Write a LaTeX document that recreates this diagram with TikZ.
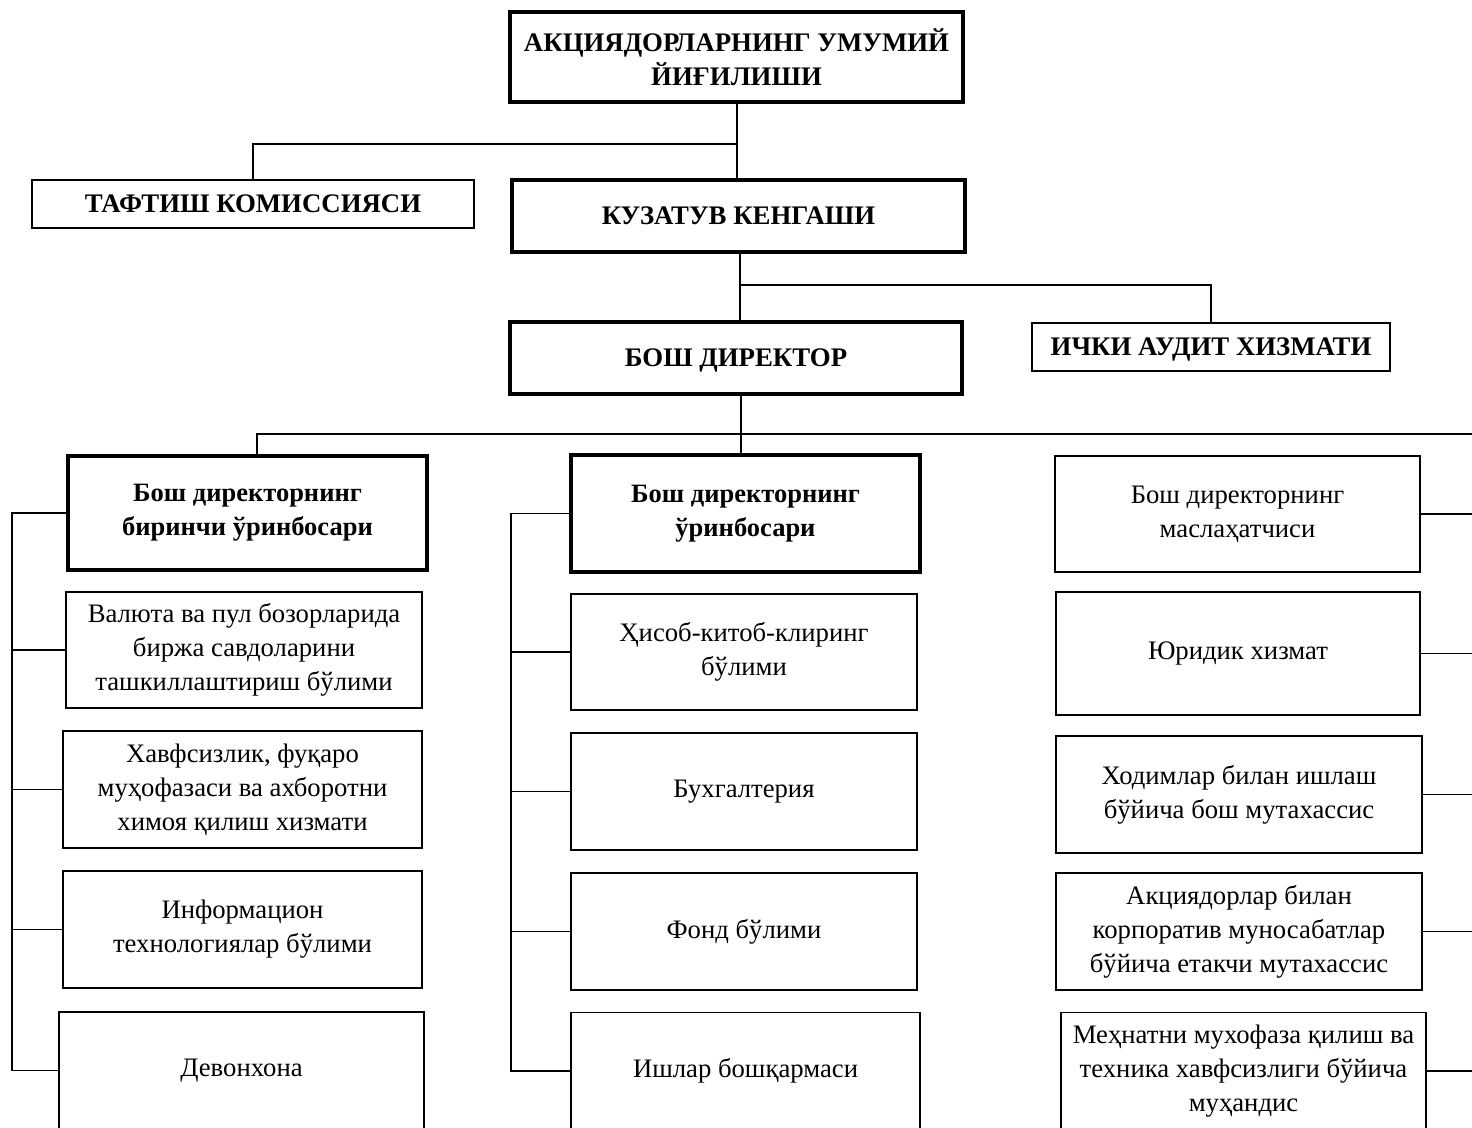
\documentclass[tikz,border=0pt]{standalone}
\usepackage{fontspec}
\setmainfont{Liberation Serif}
\begin{document}
\begin{tikzpicture}[x=1pt,y=-1pt,
  thickbox/.style={draw,line width=3.2pt,align=center,inner sep=0pt,font=\fontsize{26.8}{34}\selectfont\bfseries},
  thinbox/.style={draw,line width=1.8pt,align=center,inner sep=0pt,font=\fontsize{26.8}{34}\selectfont\bfseries},
  subbox/.style={draw,line width=3.2pt,align=center,inner sep=0pt,font=\fontsize{26.5}{34}\selectfont\bfseries},
  plainbox/.style={draw,line width=1.8pt,align=center,inner sep=0pt,font=\fontsize{26.7}{34}\selectfont},
  conn/.style={line width=1.8pt}]
\useasboundingbox (0,0) rectangle (1472,1127);
\clip (0,0) rectangle (1472,1127);
% top levels
\node[thickbox,minimum width=453pt,minimum height=90pt] (A) at (736.5,57) {АКЦИЯДОРЛАРНИНГ УМУМИЙ\\ЙИҒИЛИШИ};
\node[thinbox,text depth=0pt,minimum width=442pt,minimum height=48pt] (T) at (253,204) {ТАФТИШ КОМИССИЯСИ};
\node[thickbox,text depth=0pt,minimum width=453pt,minimum height=72pt] (K) at (738.5,216) {КУЗАТУВ КЕНГАШИ};
\node[thickbox,text depth=0pt,minimum width=452pt,minimum height=72pt] (B) at (736,358) {БОШ ДИРЕКТОР};
\node[thinbox,text depth=0pt,minimum width=358pt,minimum height=48pt] (I) at (1211,347) {ИЧКИ АУДИТ ХИЗМАТИ};
% left column
\node[subbox,minimum width=359pt,minimum height=114pt] (L0) at (247.5,513) {Бош директорнинг\\биринчи ўринбосари};
\node[plainbox,minimum width=356pt,minimum height=116pt] (L1) at (244,650) {Валюта ва пул бозорларида\\биржа савдоларини\\ташкиллаштириш бўлими};
\node[plainbox,minimum width=359pt,minimum height=117pt] (L2) at (242.5,789.5) {Хавфсизлик, фуқаро\\муҳофазаси ва ахборотни\\химоя қилиш хизмати};
\node[plainbox,minimum width=359pt,minimum height=117pt] (L3) at (242.5,929.5) {Информацион\\технологиялар бўлими};
\node[plainbox,minimum width=365pt,minimum height=117pt] (L4) at (241.5,1070.5) {Девонхона};
% middle column
\node[subbox,minimum width=349pt,minimum height=117pt] (M0) at (745.5,513.5) {Бош директорнинг\\ўринбосари};
\node[plainbox,minimum width=346pt,minimum height=116pt] (M1) at (744,652) {Ҳисоб-китоб-клиринг\\бўлими};
\node[plainbox,minimum width=346pt,minimum height=117pt] (M2) at (744,791.5) {Бухгалтерия};
\node[plainbox,minimum width=346pt,minimum height=117pt] (M3) at (744,931.5) {Фонд бўлими};
\node[plainbox,minimum width=349pt,minimum height=117pt] (M4) at (745.5,1071) {Ишлар бошқармаси};
% right column
\node[plainbox,minimum width=365pt,minimum height=116pt] (R0) at (1237.5,514) {Бош директорнинг\\маслаҳатчиси};
\node[plainbox,minimum width=364pt,minimum height=123pt] (R1) at (1238,653.5) {Юридик хизмат};
\node[plainbox,minimum width=366pt,minimum height=117pt] (R2) at (1239,794.5) {Ходимлар билан ишлаш\\бўйича бош мутахассис};
\node[plainbox,minimum width=366pt,minimum height=117pt] (R3) at (1239,931.5) {Акциядорлар билан\\корпоратив муносабатлар\\бўйича етакчи мутахассис};
\node[plainbox,minimum width=365pt,minimum height=117pt] (R4) at (1243.5,1071) {Меҳнатни мухофаза қилиш ва\\техника хавфсизлиги бўйича\\муҳандис};
% junctions
\coordinate (j1) at (737,144);
\coordinate (j2) at (740,285);
\coordinate (j3) at (741,434);
\coordinate (bl) at (12,0);
\coordinate (bm) at (511,0);
\coordinate (br) at (1480,0);
% connectors
\draw[conn] (A.south -| j1) -- (K.north -| j1);
\draw[conn] (j1) -| (T.north);
\draw[conn] (K.south -| j2) -- (B.north -| j2);
\draw[conn] (j2) -| (I.north);
\draw[conn] (B.south -| j3) -- (M0.north -| j3);
\draw[conn] (L0.north -| 257,0) |- (j3 -| br) -- (R4.east -| br);
% left bus
\draw[conn] (L0.west) -- (L0.west -| bl) -- (L4.west -| bl) -- (L4.west);
\draw[conn] (L1.west) -- (L1.west -| bl);
\draw[conn] (L2.west) -- (L2.west -| bl);
\draw[conn] (L3.west) -- (L3.west -| bl);
% middle bus
\draw[conn] (M0.west) -- (M0.west -| bm) -- (M4.west -| bm) -- (M4.west);
\draw[conn] (M1.west) -- (M1.west -| bm);
\draw[conn] (M2.west) -- (M2.west -| bm);
\draw[conn] (M3.west) -- (M3.west -| bm);
% right bus
\draw[conn] (R0.east) -- (R0.east -| br);
\draw[conn] (R1.east) -- (R1.east -| br);
\draw[conn] (R2.east) -- (R2.east -| br);
\draw[conn] (R3.east) -- (R3.east -| br);
\draw[conn] (R4.east) -- (R4.east -| br);
\end{tikzpicture}
\end{document}
